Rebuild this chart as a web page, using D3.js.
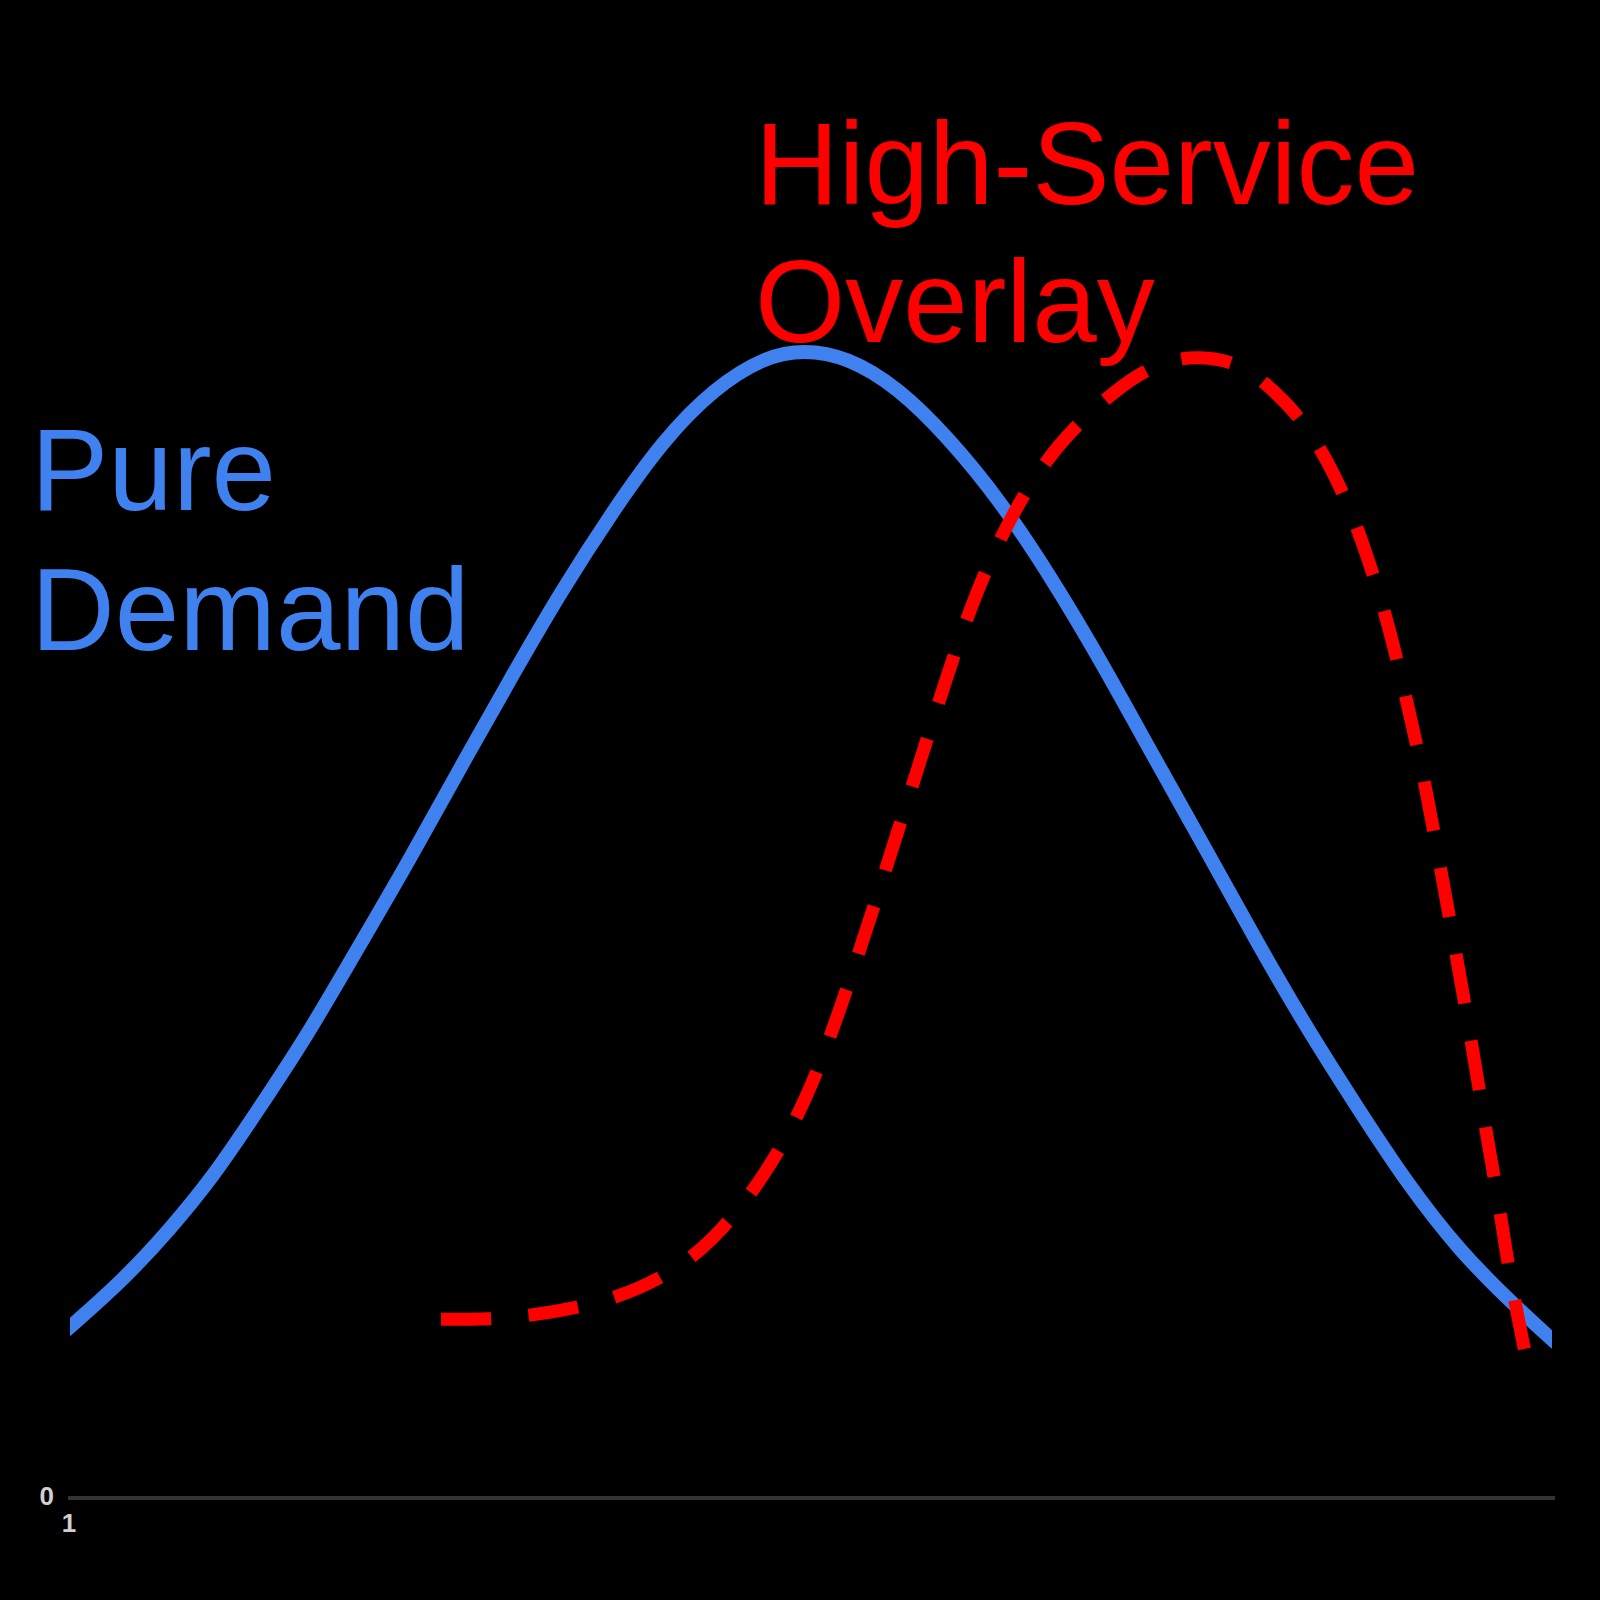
<!DOCTYPE html>
<html>
<head>
<meta charset="utf-8">
<script src="https://cdn.jsdelivr.net/npm/d3@7"></script>
<style>
  html, body { margin: 0; padding: 0; background: #000; }
  svg { display: block; }
</style>
</head>
<body>
<div id="chart"></div>
<script>
// Pure demand curve (x in 0..100, y in 0..100)
var demandX = [0, 3.5, 6.6, 9.7, 12.4, 15.9, 19.3, 22.8, 26.2, 29.7, 33.1, 36.6, 40.0, 43.5, 46.9, 49.5,
               52.4, 55.9, 59.3, 62.8, 66.2, 69.7, 73.1, 76.6, 80.0, 83.4, 86.9, 90.3, 93.8, 97.2, 100];
var demandY = [15.0, 19.0, 23.3, 28.2, 33.4, 40.2, 47.8, 55.5, 63.5, 71.5, 79.1, 86.1, 92.3, 96.9, 99.6, 100.2,
               99.6, 96.9, 92.5, 87.0, 80.4, 72.8, 64.8, 56.8, 48.8, 41.2, 34.1, 27.4, 21.6, 17.2, 13.9];

// High-service overlay curve
var overlayX = [25.0, 28.3, 31.0, 34.2, 36.9, 40.0, 43.3, 47.0, 49.8, 51.8, 53.7, 55.5, 57.4, 59.1, 61.0,
                63.4, 66.6, 70.7, 73.6, 76.3, 79.0, 80.7, 82.8, 84.5, 86.2, 87.6, 89.0, 90.3, 91.4,
                92.4, 93.4, 94.5, 95.5, 96.6, 97.2, 98.2];
var overlayY = [15.6, 15.6, 15.9, 16.6, 17.5, 19.2, 22.2, 28.2, 35.0, 42.0, 49.4, 56.7, 64.4, 71.4, 78.6,
                85.6, 92.1, 96.9, 99.2, 99.7, 99.0, 97.3, 94.7, 91.5, 87.1, 82.2, 76.4, 69.3, 63.0,
                55.9, 48.8, 40.8, 32.8, 24.8, 19.4, 13.0];

var xTickLabels = ["1"];
var yTickLabels = ["0"];

var chartWidth = 1600, chartHeight = 1600;
var plotLeft = 71, plotRight = 1551, plotTop = 352, plotBottom = 1498;

var svg = d3.select("#chart")
    .append("svg")
    .attr("width", chartWidth)
    .attr("height", chartHeight);

svg.append("rect")
    .attr("width", chartWidth)
    .attr("height", chartHeight)
    .attr("fill", "#000");

var x = d3.scaleLinear().domain([0, 100]).range([plotLeft, plotRight]);
var y = d3.scaleLinear().domain([0, 100]).range([plotBottom, plotTop]);

// clip for the plot area
svg.append("clipPath")
    .attr("id", "plot-clip")
    .append("rect")
    .attr("x", plotLeft - 1)
    .attr("y", 0)
    .attr("width", plotRight - plotLeft + 2)
    .attr("height", chartHeight);

// axis line
svg.append("line")
    .attr("x1", plotLeft - 3)
    .attr("x2", plotRight + 4)
    .attr("y1", plotBottom)
    .attr("y2", plotBottom)
    .attr("stroke", "#333")
    .attr("stroke-width", 4);

// tick labels
svg.append("text")
    .attr("x", 54)
    .attr("y", plotBottom + 7)
    .attr("text-anchor", "end")
    .attr("fill", "#d0d0d0")
    .style("font-family", "'Liberation Sans', Arial, sans-serif")
    .style("font-weight", "bold")
    .style("font-size", "26px")
    .text(yTickLabels[0]);

svg.append("text")
    .attr("x", x(0) - 2)
    .attr("y", plotBottom + 34)
    .attr("text-anchor", "middle")
    .attr("fill", "#d0d0d0")
    .style("font-family", "'Liberation Sans', Arial, sans-serif")
    .style("font-weight", "bold")
    .style("font-size", "26px")
    .text(xTickLabels[0]);

var line = d3.line()
    .x(function (d) { return x(d[0]); })
    .y(function (d) { return y(d[1]); })
    .curve(d3.curveBasis);

var demand = d3.zip(demandX, demandY);
var overlay = d3.zip(overlayX, overlayY);

//Pure demand
svg.append("path")
    .datum(demand)
    .attr("clip-path", "url(#plot-clip)")
    .attr("d", line)
    .attr("fill", "none")
    .attr("stroke", "#4081F0")
    .attr("stroke-width", 14)
    .attr("stroke-linecap", "square");

//Overlay (dashed) - stretch the gap a little so the last dash ends on the last point
var overlayPath = svg.append("path")
    .datum(overlay)
    .attr("d", line)
    .attr("fill", "none")
    .attr("stroke", "#ff0000")
    .attr("stroke-width", 13);
var dash = 50, gap = 37;
var len = overlayPath.node().getTotalLength();
var n = Math.round((len + gap) / (dash + gap));
gap = (len - n * dash) / (n - 1);
overlayPath.attr("stroke-dasharray", dash + " " + gap);

// labels
var labelFont = "'Liberation Sans', Arial, sans-serif";
var blueLabel = svg.append("text")
    .attr("fill", "#4081F0")
    .style("font-family", labelFont)
    .style("font-size", "116px");
blueLabel.append("tspan").attr("x", 31).attr("y", 510).text("Pure");
blueLabel.append("tspan").attr("x", 31).attr("y", 650).text("Demand");

var redLabel = svg.append("text")
    .attr("fill", "#ff0000")
    .style("font-family", labelFont)
    .style("font-size", "116px");
redLabel.append("tspan").attr("x", 755).attr("y", 204).text("High-Service");
redLabel.append("tspan").attr("x", 755).attr("y", 342).text("Overlay");
</script>
</body>
</html>
